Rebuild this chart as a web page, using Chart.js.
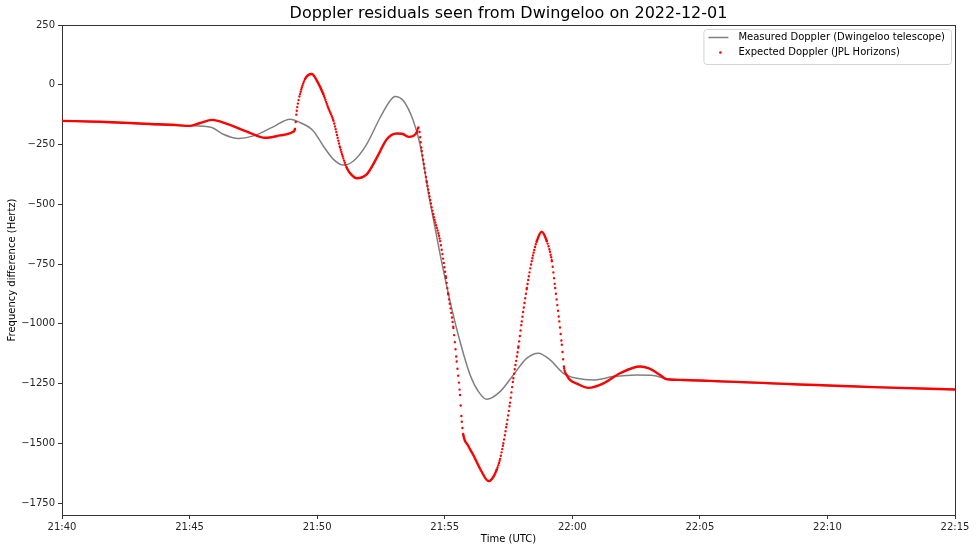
<!DOCTYPE html>
<html>
<head>
<meta charset="utf-8">
<script src="https://cdn.jsdelivr.net/npm/chart.js@4.4.1/dist/chart.umd.min.js"></script>
<style>
  html, body { margin: 0; padding: 0; background: #fff; }
  #wrap { width: 976px; height: 552px; }
</style>
</head>
<body>
<div id="wrap"><canvas id="dopplerChart"></canvas></div>
<script>
// x values are minutes after 21:40 UTC
const xTickMinutes = [0, 5, 10, 15, 20, 25, 30, 35];
const xTickLabels = ['21:40', '21:45', '21:50', '21:55', '22:00', '22:05', '22:10', '22:15'];
const yTicks = [250, 0, -250, -500, -750, -1000, -1250, -1500, -1750];

// Measured Doppler (Dwingeloo telescope)
const measuredMin = [0.00, 2.50, 5.02, 5.14, 5.87, 6.32, 6.91, 7.50, 8.28, 8.94,
  9.33, 9.85, 10.24, 10.64, 11.03, 11.42, 11.94, 12.47, 12.86, 13.05,
  13.38, 13.77, 14.03, 14.42, 14.82, 15.21, 15.60, 16.00, 16.33, 16.65,
  17.17, 17.69, 18.22, 18.67, 19.13, 19.65, 20.18, 20.83, 21.61, 22.53,
  23.18, 23.70, 24.35, 30.03, 35.00];
const measuredHz = [-151, -160, -172, -172, -179, -207, -225, -214, -176, -144,
  -158, -193, -256, -312, -336, -319, -249, -137, -67, -49,
  -67, -151, -249, -487, -710, -906, -1074, -1215, -1285, -1316,
  -1284, -1214, -1144, -1123, -1151, -1207, -1228, -1235, -1221, -1214,
  -1216, -1230, -1235, -1258, -1275];

// Expected Doppler (JPL Horizons)
const expectedMin = [0.00, 1.49, 3.45, 4.43, 5.02, 5.41, 5.88, 6.47, 7.25, 7.96,
  8.55, 9.06, 9.13, 9.20, 9.33, 9.53, 9.79, 10.00, 10.24, 10.43,
  10.64, 10.90, 11.16, 11.33, 11.55, 11.94, 12.34, 12.73, 13.12, 13.33,
  13.58, 13.90, 13.97, 14.10, 14.30, 14.55, 14.82, 15.05, 15.14, 15.34,
  15.47, 15.60, 15.67, 15.73, 15.92, 16.12, 16.45, 16.71, 16.86, 17.04,
  17.17, 17.30, 17.43, 17.56, 17.69, 17.89, 18.02, 18.22, 18.41, 18.61,
  18.80, 19.00, 19.20, 19.33, 19.49, 19.59, 19.68, 19.78, 19.91, 20.18,
  20.63, 21.22, 21.87, 22.66, 22.98, 23.44, 23.70, 24.35, 25.40, 26.97,
  28.93, 30.03, 32.07, 35.00];
const expectedHz = [-151, -155, -164, -168, -172, -160, -147, -164, -196, -222,
  -212, -197, -185, -109, -39, 25, 45, 15, -39, -95,
  -151, -263, -347, -375, -391, -375, -305, -228, -204, -205,
  -218, -200, -179, -277, -408, -542, -654, -808, -878, -1018,
  -1158, -1298, -1410, -1465, -1510, -1549, -1619, -1658, -1648, -1610,
  -1565, -1500, -1420, -1330, -1228, -1095, -990, -850, -738, -654,
  -615, -654, -738, -850, -990, -1088, -1186, -1214, -1235, -1250,
  -1268, -1249, -1207, -1179, -1186, -1214, -1232, -1235, -1239, -1245,
  -1254, -1258, -1266, -1275];

Chart.defaults.font.family = '"DejaVu Sans", sans-serif';
Chart.defaults.font.size = 10;
Chart.defaults.color = '#262626';

const frameColor = '#333';

// steep stretches of the expected curve show as separate dots
function dotGap(ctx) {
  const dx = Math.abs(ctx.p1.x - ctx.p0.x);
  const dy = Math.abs(ctx.p1.y - ctx.p0.y);
  const slope = dy / Math.max(dx, 0.01);
  const gap = 0.7 * Math.sqrt(1 + slope * slope);
  return gap < 1.8 ? undefined : [0, gap];
}

// matplotlib style legend box inside the plot
const boxLegend = {
  id: 'boxLegend',
  afterDraw(chart) {
    const { ctx, chartArea } = chart;
    const sets = chart.data.datasets;
    ctx.save();
    ctx.font = '10px "DejaVu Sans", sans-serif';
    const textW = Math.max(...sets.map(ds => ctx.measureText(ds.label).width));
    const w = 35 + textW + 6;
    const h = 35;
    const left = chartArea.right - 4 - w;
    const top = chartArea.top + 4;
    ctx.beginPath();
    if (ctx.roundRect) ctx.roundRect(left + 0.5, top + 0.5, w, h, 3);
    else ctx.rect(left + 0.5, top + 0.5, w, h);
    ctx.fillStyle = 'rgba(255,255,255,0.8)';
    ctx.fill();
    ctx.strokeStyle = '#d4d4d4';
    ctx.lineWidth = 1;
    ctx.stroke();
    sets.forEach((ds, i) => {
      const y = top + 8.5 + i * 15;
      if (ds.showDots) {
        ctx.beginPath();
        ctx.arc(left + 17, y, 1.3, 0, Math.PI * 2);
        ctx.fillStyle = ds.borderColor;
        ctx.fill();
      } else {
        ctx.beginPath();
        ctx.moveTo(left + 5, y);
        ctx.lineTo(left + 25, y);
        ctx.strokeStyle = ds.borderColor;
        ctx.lineWidth = 1.5;
        ctx.stroke();
      }
      ctx.fillStyle = '#000';
      ctx.textBaseline = 'middle';
      ctx.fillText(ds.label, left + 35, y);
    });
    ctx.restore();
  }
};

new Chart(document.getElementById('dopplerChart'), {
  type: 'line',
  data: {
    datasets: [
      {
        label: 'Measured Doppler (Dwingeloo telescope)',
        data: measuredMin.map((m, i) => ({ x: m, y: measuredHz[i] })),
        borderColor: '#808080',
        borderWidth: 1.5,
        pointRadius: 0,
        cubicInterpolationMode: 'monotone',
        order: 1
      },
      {
        label: 'Expected Doppler (JPL Horizons)',
        data: expectedMin.map((m, i) => ({ x: m, y: expectedHz[i] })),
        borderColor: '#ff0000',
        borderWidth: 2.4,
        borderCapStyle: 'round',
        pointRadius: 0,
        cubicInterpolationMode: 'monotone',
        showDots: true,
        segment: { borderDash: dotGap },
        order: 0
      }
    ]
  },
  options: {
    responsive: true,
    maintainAspectRatio: false,
    animation: false,
    devicePixelRatio: 1,
    layout: { padding: { left: 0, right: 21, top: 0, bottom: 0 } },
    plugins: {
      legend: { display: false },
      tooltip: { enabled: false },
      title: {
        display: true,
        text: 'Doppler residuals seen from Dwingeloo on 2022-12-01',
        fullSize: false,
        color: '#000',
        font: { size: 16, weight: 'normal' },
        padding: { top: 4, bottom: 1.8 }
      }
    },
    scales: {
      x: {
        type: 'linear',
        min: 0,
        max: 35,
        afterBuildTicks: s => { s.ticks = xTickMinutes.map(v => ({ value: v })); },
        afterFit: s => { s.height = 37; },
        ticks: {
          autoSkip: false,
          maxRotation: 0,
          padding: 2,
          callback: (v, i) => xTickLabels[i]
        },
        grid: { drawOnChartArea: false, tickLength: 4, tickColor: frameColor },
        border: { color: frameColor, width: 1 },
        title: { display: true, text: 'Time (UTC)', color: '#000', padding: { top: 0, bottom: 7 } }
      },
      y: {
        min: -1800,
        max: 250,
        afterBuildTicks: s => { s.ticks = yTicks.map(v => ({ value: v })); },
        afterFit: s => { s.width = 62; },
        ticks: {
          autoSkip: false,
          padding: 3,
          callback: v => String(v).replace('-', '\u2212')
        },
        grid: { drawOnChartArea: false, tickLength: 4, tickColor: frameColor },
        border: { color: frameColor, width: 1 },
        title: { display: true, text: 'Frequency difference (Hertz)', color: '#000', padding: { top: 6, bottom: 0 } }
      },
      xTop: {
        type: 'linear',
        position: 'top',
        min: 0,
        max: 35,
        ticks: { display: false },
        grid: { drawOnChartArea: false, drawTicks: false },
        border: { color: frameColor, width: 1 },
        afterFit: s => { s.height = 0; }
      },
      yRight: {
        type: 'linear',
        position: 'right',
        min: -1800,
        max: 250,
        ticks: { display: false },
        grid: { drawOnChartArea: false, drawTicks: false },
        border: { color: frameColor, width: 1 },
        afterFit: s => { s.width = 0; }
      }
    }
  },
  plugins: [boxLegend]
});
</script>
</body>
</html>
